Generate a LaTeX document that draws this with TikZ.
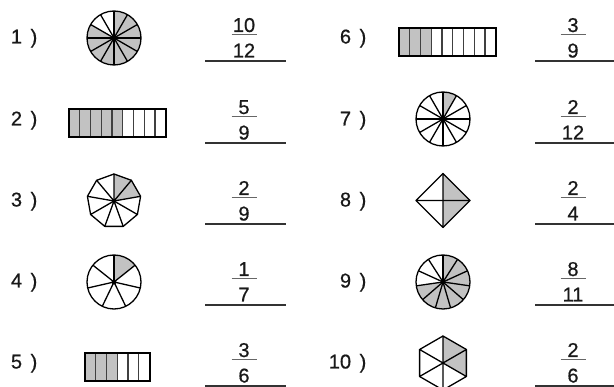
\documentclass[tikz,border=0pt]{standalone}
\usepackage{fontspec}
\setmainfont{Liberation Sans}
\newfontfamily\labfont{Liberation Sans}[RawFeature={embolden=0.6}]
\tikzset{
  shapeline/.style={draw=black, line width=1.3pt, line join=round},
  frameline/.style={draw=black, line width=2pt},
  cellline/.style={draw=black!75, line width=1.1pt},
  shadefill/.style={fill=black!24},
  numlabel/.style={font=\fontsize{20}{20}\selectfont\labfont, text=black!90, inner sep=0pt, anchor=base east},
  fractext/.style={font=\fontsize{20}{20}\selectfont\labfont, text=black!90, inner sep=0pt, anchor=base},
  fracbar/.style={draw=black!60, line width=1.5pt},
  answerline/.style={draw=black!80, line width=1.3pt},
}
% pie: name, x, y, n, k
\newcommand{\pieshape}[5]{%
  \coordinate (#1) at (#2,#3);
  \pgfmathsetmacro{\mystp}{360/#4}
  \pgfmathsetmacro{\myend}{90-#5*\mystp}
  \fill[shadefill] (#1) -- ([shift={(90:27)}]#1) arc[start angle=90, end angle=\myend, radius=27] -- cycle;
  \foreach \i in {1,...,#4}{
    \pgfmathsetmacro{\angA}{90-(\i-1)*\mystp}
    \draw[shapeline] (#1) -- ([shift={(\angA:27)}]#1);
  }
  \draw[shapeline] (#1) circle[radius=27];
  \fill (#1) circle[radius=2.4];
}
% polygon: name, x, y, n, k, dot radius
\newcommand{\polyshape}[6]{%
  \coordinate (#1) at (#2,#3);
  \pgfmathsetmacro{\mystp}{360/#4}
  \fill[shadefill] (#1) \foreach \i in {0,...,#5}{ -- ([shift={({90-\i*\mystp}:27)}]#1) } -- cycle;
  \foreach \i in {1,...,#4}{
    \pgfmathsetmacro{\angA}{90-(\i-1)*\mystp}
    \pgfmathsetmacro{\angB}{90-\i*\mystp}
    \draw[shapeline] (#1) -- ([shift={(\angA:27)}]#1) -- ([shift={(\angB:27)}]#1);
  }
  \fill (#1) circle[radius=#6];
}
% bar: name, x0, ytop, n, k
\newcommand{\barshape}[5]{%
  \coordinate (#1) at (#2,#3);
  \fill[shadefill] (#1) rectangle ++({#5*10.75},-28);
  \pgfmathtruncatemacro{\mylast}{#4-1}
  \foreach \i in {1,...,\mylast}{
    \draw[cellline] ([shift={({\i*10.75},0)}]#1) -- ++(0,-28);
  }
  \draw[frameline] (#1) rectangle ++({#4*10.75},-28);
}
% fraction and answer line: name, x, row, num, den, line start, line end
\newcommand{\fracitem}[7]{%
  \node[fractext] (#1n) at (#2,{-(#3-6)}) {#4};
  \node[fractext] (#1d) at (#2,{-(#3+19.5)}) {#5};
  \draw[fracbar] ({#2-12.5},{-(#3-3.5)}) -- ({#2+12.5},{-(#3-3.5)});
  \draw[answerline] (#6,{-(#3+23)}) -- (#7,{-(#3+23)});
}
\newcommand{\lab}[1]{#1\hspace{3pt} )}
\begin{document}
\begin{tikzpicture}[x=1pt,y=1pt]
\useasboundingbox (0,0) rectangle (614,-387);
% labels
\node[numlabel] (l1) at (37.5,-43.5) {\lab{1}};
\node[numlabel] (l2) at (37.5,-125.5) {\lab{2}};
\node[numlabel] (l3) at (37.5,-206.5) {\lab{3}};
\node[numlabel] (l4) at (37.5,-287.5) {\lab{4}};
\node[numlabel] (l5) at (37.5,-368.5) {\lab{5}};
\node[numlabel] (l6) at (366.5,-43.5) {\lab{6}};
\node[numlabel] (l7) at (366.5,-125.5) {\lab{7}};
\node[numlabel] (l8) at (366.5,-206.5) {\lab{8}};
\node[numlabel] (l9) at (366.5,-287.5) {\lab{9}};
\node[numlabel] (l10) at (366.5,-368.5) {\lab{10}};
% figures
\pieshape{f1}{114}{-38}{12}{10}
\barshape{f2}{69}{-109}{9}{5}
\polyshape{f3}{114}{-201}{9}{2}{2}
\pieshape{f4}{114}{-282}{7}{1}
\barshape{f5}{85}{-353}{6}{3}
\barshape{f6}{399}{-28}{9}{3}
\pieshape{f7}{443}{-119}{12}{1}
\polyshape{f8}{443}{-200.5}{4}{2}{0}
\pieshape{f9}{443}{-282}{11}{8}
\polyshape{f10}{443}{-363}{6}{2}{1.5}
% fractions
\fracitem{q1}{244}{38}{10}{12}{205}{286}
\fracitem{q2}{244}{120}{5}{9}{205}{286}
\fracitem{q3}{244}{201}{2}{9}{205}{286}
\fracitem{q4}{244}{282}{1}{7}{205}{286}
\fracitem{q5}{244}{363}{3}{6}{205}{286}
\fracitem{q6}{573}{38}{3}{9}{535}{616}
\fracitem{q7}{573}{120}{2}{12}{535}{616}
\fracitem{q8}{573}{201}{2}{4}{535}{616}
\fracitem{q9}{573}{282}{8}{11}{535}{616}
\fracitem{q10}{573}{363}{2}{6}{535}{616}
\end{tikzpicture}
\end{document}
